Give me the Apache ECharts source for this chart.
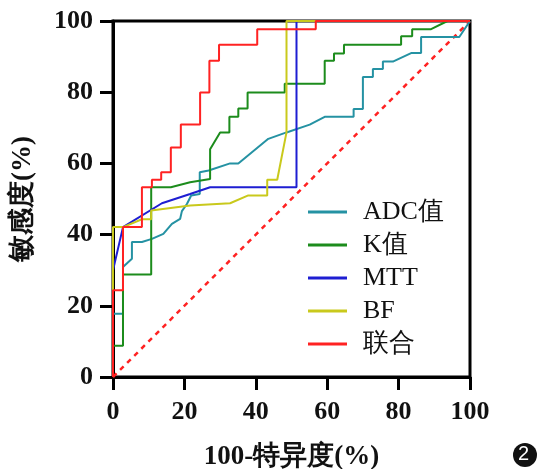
<!DOCTYPE html>
<html>
<head>
<meta charset="utf-8">
<script src="https://cdn.jsdelivr.net/npm/echarts@6/dist/echarts.min.js"></script>
<style>
html,body{margin:0;padding:0;background:#fff;}
#container{width:541px;height:469px;}
</style>
</head>
<body>
<div id="container"></div>
<script>
var names = ['ADC值', 'K值', 'MTT', 'BF', '联合'];
var colors = ['#2592a3', '#1c8c1c', '#1e1ed2', '#c9c91c', '#ff2222'];
var xTicks = [0, 20, 40, 60, 80, 100];

// [100-特异度, 敏感度]
var adc = [[0,0],[0,17.8],[2.8,17.8],[2.8,30.9],[5.3,33.2],[5.3,37.9],[8.1,37.9],[10.9,38.8],[14.1,40.2],[16.5,43],
	[18.8,44.4],[19.3,46.6],[20.7,48.6],[21.9,51],[24.3,51.4],[24.3,57.5],[26.8,58],[32.8,60],[35.1,60],[43.5,66.9],
	[48.6,68.7],[55.1,70.9],[59.3,73.1],[67.4,73.1],[67.4,75.3],[70,75.3],[70,84.3],[72.8,84.3],[72.8,86.5],[75.6,86.5],
	[75.6,88.6],[78.4,88.6],[83.5,91],[86.3,91],[86.3,95.5],[97,95.5],[100,100]];
var kval = [[0,0],[0,8.8],[2.8,8.8],[2.8,28.8],[10.7,28.8],[10.7,53.3],[16.2,53.3],[21.6,54.7],[27.2,55.6],[27.2,64],
	[30,68.7],[32.6,68.7],[32.6,73.1],[35.1,73.1],[35.1,75.4],[37.7,75.4],[37.7,79.9],[48.1,79.9],[48.1,82.4],[59.3,82.4],
	[59.3,88.8],[61.9,88.8],[61.9,90.9],[64.7,90.9],[64.7,93.3],[80.7,93.3],[80.7,95.7],[83.8,95.7],[83.8,97.7],[89.1,97.7],
	[93.7,100],[100,100]];
var mtt = [[0,0],[0,30],[2.8,42.1],[13.7,48.8],[21.6,51.4],[27.2,53.3],[51.4,53.3],[51.4,100],[100,100]];
var bf = [[0,0],[0,42.1],[2.8,42.1],[8.1,44.3],[10.7,44.3],[10.7,46.8],[21.6,48.2],[32.8,48.8],[37.9,51],[43.2,51],
	[43.2,55.4],[46,55.4],[48.6,68.7],[48.6,100],[100,100]];
var combo = [[0,0],[0,24.4],[2.8,24.4],[2.8,42.1],[8.1,42.1],[8.1,53.3],[10.9,53.3],[10.9,55.4],[13.5,55.4],[13.5,57.5],
	[16.2,57.5],[16.2,64.5],[19,64.5],[19,70.9],[24.4,70.9],[24.4,79.9],[27,79.9],[27,88.8],[29.7,88.8],[29.7,93.3],
	[40.4,93.3],[40.4,97.7],[56.8,97.7],[56.8,100],[100,100]];
var reference = [[0,0],[100,100]];

var curves = [adc, kval, mtt, bf, combo];
var seriesList = [];
for (var i = 0; i < curves.length; i++) {
	seriesList.push({
		name: names[i],
		type: 'line',
		data: curves[i],
		symbol: 'none',
		animation: false,
		itemStyle: { color: colors[i] },
		lineStyle: { color: colors[i], width: 2 }
	});
}
seriesList.unshift({
	name: 'ref',
	type: 'line',
	data: reference,
	symbol: 'none',
	animation: false,
	lineStyle: { color: '#ff2222', width: 2.5, type: [5, 5] }
});

var serif = 'Liberation Serif';
var myChart = echarts.init(document.getElementById('container'));
var option = {
	backgroundColor: '#fff',
	grid: {
		left: 113, right: 71, top: 21, bottom: 92,
		outerBoundsMode: 'none',
		containLabel: false,
		show: true, borderColor: '#000', borderWidth: 3
	},
	legend: {
		data: names,
		orient: 'vertical',
		left: 303,
		top: 194,
		itemWidth: 39,
		itemHeight: 3,
		itemGap: 7,
		icon: 'rect',
		textStyle: {
			fontFamily: serif, fontSize: 26, color: '#111',
			lineHeight: 26, padding: [0, 0, 0, 11]
		}
	},
	xAxis: {
		type: 'value',
		min: 0, max: 100, interval: 20,
		name: '100-特异度(%)',
		nameLocation: 'middle',
		nameGap: 67,
		nameTextStyle: { fontFamily: serif, fontSize: 27, fontWeight: 'bold', color: '#111' },
		axisLine: { onZero: false, lineStyle: { color: '#000', width: 3 } },
		axisTick: { show: true, length: 13, lineStyle: { color: '#000', width: 3 } },
		axisLabel: {
			fontFamily: serif, fontSize: 26, fontWeight: 'bold', color: '#111', margin: 22,
			formatter: function (v) { return xTicks.indexOf(v) >= 0 ? String(v) : ''; }
		},
		splitLine: { show: false }
	},
	yAxis: {
		type: 'value',
		min: 0, max: 100, interval: 20,
		name: '敏感度(%)',
		nameLocation: 'middle',
		nameGap: 76,
		nameTextStyle: { fontFamily: serif, fontSize: 27, fontWeight: 'bold', color: '#111' },
		axisLine: { onZero: false, lineStyle: { color: '#000', width: 3 } },
		axisTick: { show: true, length: 13, lineStyle: { color: '#000', width: 3 } },
		axisLabel: { fontFamily: serif, fontSize: 26, fontWeight: 'bold', color: '#111', margin: 20 },
		splitLine: { show: false }
	},
	graphic: [{
		type: 'circle',
		left: 513, top: 443,
		shape: { r: 12 },
		style: { fill: '#111' }
	}, {
		type: 'text',
		left: 518, top: 444,
		style: { text: '2', fill: '#fff', font: '20px "Liberation Sans"' }
	}],
	series: seriesList
};
myChart.setOption(option);
</script>
</body>
</html>
